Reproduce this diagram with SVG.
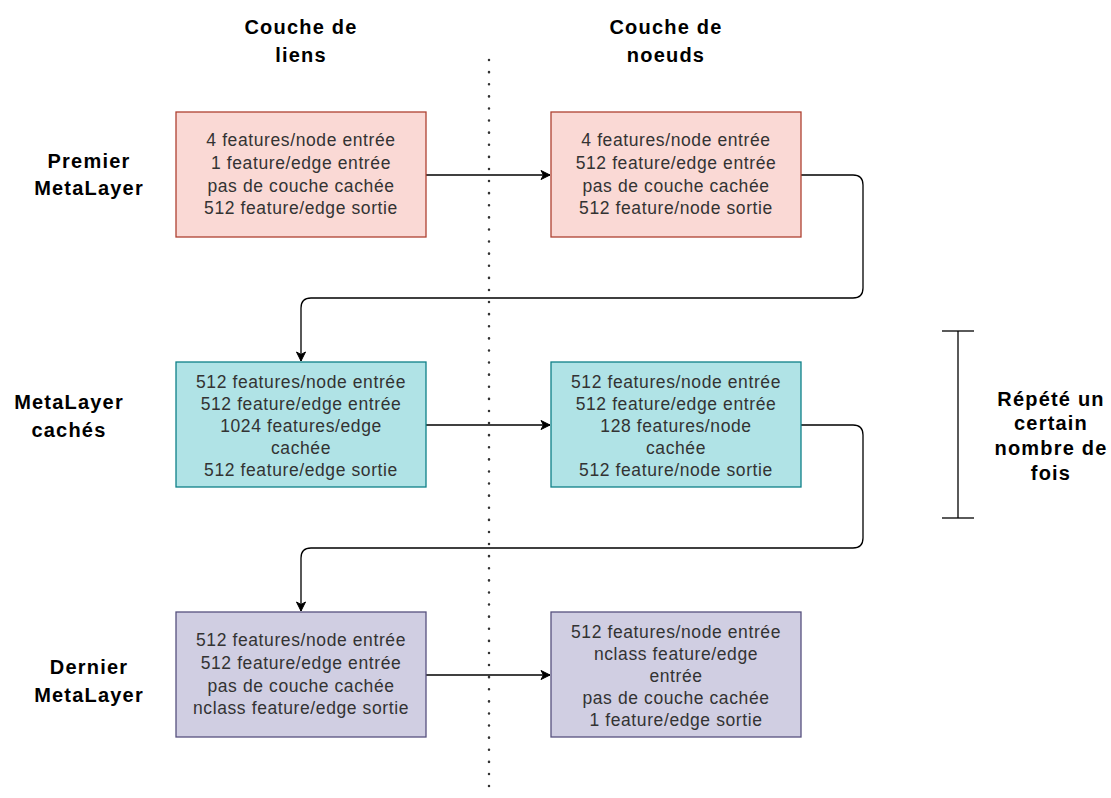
<svg xmlns="http://www.w3.org/2000/svg" width="1111" height="798" viewBox="0 0 1111 798">
<defs>
<marker id="arr" markerWidth="12" markerHeight="12" refX="10" refY="6" orient="auto" markerUnits="userSpaceOnUse">
<path d="M1,1.5 L10,6 L1,10.5 L3.5,6 Z" fill="#000" stroke="#000" stroke-width="1"/>
</marker>
<style>
.lbl{font-family:"Liberation Sans",Arial,sans-serif;font-weight:bold;font-size:20px;letter-spacing:1.2px;fill:#000;text-anchor:middle}
.bt{font-family:"Liberation Sans",Arial,sans-serif;font-size:17.5px;letter-spacing:0.6px;fill:#333;text-anchor:middle}
.pink{fill:#fad9d5;stroke:#ae4132;stroke-width:1.3}
.cyan{fill:#b0e3e6;stroke:#0e8088;stroke-width:1.3}
.purp{fill:#d0cee2;stroke:#56517e;stroke-width:1.3}
.con{fill:none;stroke:#000;stroke-width:1.3;marker-end:url(#arr)}
</style>
</defs>
<rect width="1111" height="798" fill="#fff"/>
<g id="divider"><line x1="489" y1="60" x2="489" y2="798" stroke="#333" stroke-width="2.5" stroke-dasharray="0.1 12" stroke-linecap="round"/></g>
<g id="headers">
<text class="lbl" x="301" y="34">Couche de</text>
<text class="lbl" x="301" y="62">liens</text>
<text class="lbl" x="666" y="34">Couche de</text>
<text class="lbl" x="666" y="62">noeuds</text>
<text class="lbl" x="89" y="168">Premier</text>
<text class="lbl" x="89" y="195">MetaLayer</text>
<text class="lbl" x="69" y="409">MetaLayer</text>
<text class="lbl" x="69" y="437">cachés</text>
<text class="lbl" x="89" y="674">Dernier</text>
<text class="lbl" x="89" y="702">MetaLayer</text>
</g>
<g id="connectors">
<path class="con" d="M426,175 L550,175"/>
<path class="con" d="M801,175 L853,175 Q863,175 863,185 L863,288 Q863,298 853,298 L311,298 Q301,298 301,308 L301,361"/>
<path class="con" d="M426,425 L550,425"/>
<path class="con" d="M801,425 L853,425 Q863,425 863,435 L863,538 Q863,548 853,548 L311,548 Q301,548 301,558 L301,611"/>
<path class="con" d="M426,675 L550,675"/>
</g>
<g id="n1"><rect class="pink" x="176" y="112" width="250" height="125"/>
<text class="bt" x="301" y="146">4 features/node entrée</text>
<text class="bt" x="301" y="169">1 feature/edge entrée</text>
<text class="bt" x="301" y="192">pas de couche cachée</text>
<text class="bt" x="301" y="214">512 feature/edge sortie</text></g>
<g id="n2"><rect class="pink" x="551" y="112" width="250" height="125"/>
<text class="bt" x="676" y="146">4 features/node entrée</text>
<text class="bt" x="676" y="169">512 feature/edge entrée</text>
<text class="bt" x="676" y="192">pas de couche cachée</text>
<text class="bt" x="676" y="214">512 feature/node sortie</text></g>
<g id="n3"><rect class="cyan" x="176" y="362" width="250" height="125"/>
<text class="bt" x="301" y="388">512 features/node entrée</text>
<text class="bt" x="301" y="410">512 feature/edge entrée</text>
<text class="bt" x="301" y="432">1024 features/edge</text>
<text class="bt" x="301" y="454">cachée</text>
<text class="bt" x="301" y="476">512 feature/edge sortie</text></g>
<g id="n4"><rect class="cyan" x="551" y="362" width="250" height="125"/>
<text class="bt" x="676" y="388">512 features/node entrée</text>
<text class="bt" x="676" y="410">512 feature/edge entrée</text>
<text class="bt" x="676" y="432">128 features/node</text>
<text class="bt" x="676" y="454">cachée</text>
<text class="bt" x="676" y="476">512 feature/node sortie</text></g>
<g id="n5"><rect class="purp" x="176" y="612" width="250" height="125"/>
<text class="bt" x="301" y="646">512 features/node entrée</text>
<text class="bt" x="301" y="669">512 feature/edge entrée</text>
<text class="bt" x="301" y="692">pas de couche cachée</text>
<text class="bt" x="301" y="714">nclass feature/edge sortie</text></g>
<g id="n6"><rect class="purp" x="551" y="612" width="250" height="125"/>
<text class="bt" x="676" y="638">512 features/node entrée</text>
<text class="bt" x="676" y="660">nclass feature/edge</text>
<text class="bt" x="676" y="682">entrée</text>
<text class="bt" x="676" y="704">pas de couche cachée</text>
<text class="bt" x="676" y="726">1 feature/edge sortie</text></g>
<g id="bracket" stroke="#000" stroke-width="1.3">
<line x1="958" y1="331" x2="958" y2="518"/>
<line x1="942" y1="331" x2="974" y2="331"/>
<line x1="942" y1="518" x2="974" y2="518"/>
</g>
<g id="note">
<text class="lbl" x="1051" y="406">Répété un</text>
<text class="lbl" x="1051" y="430">certain</text>
<text class="lbl" x="1051" y="455">nombre de</text>
<text class="lbl" x="1051" y="480">fois</text>
</g>
</svg>
